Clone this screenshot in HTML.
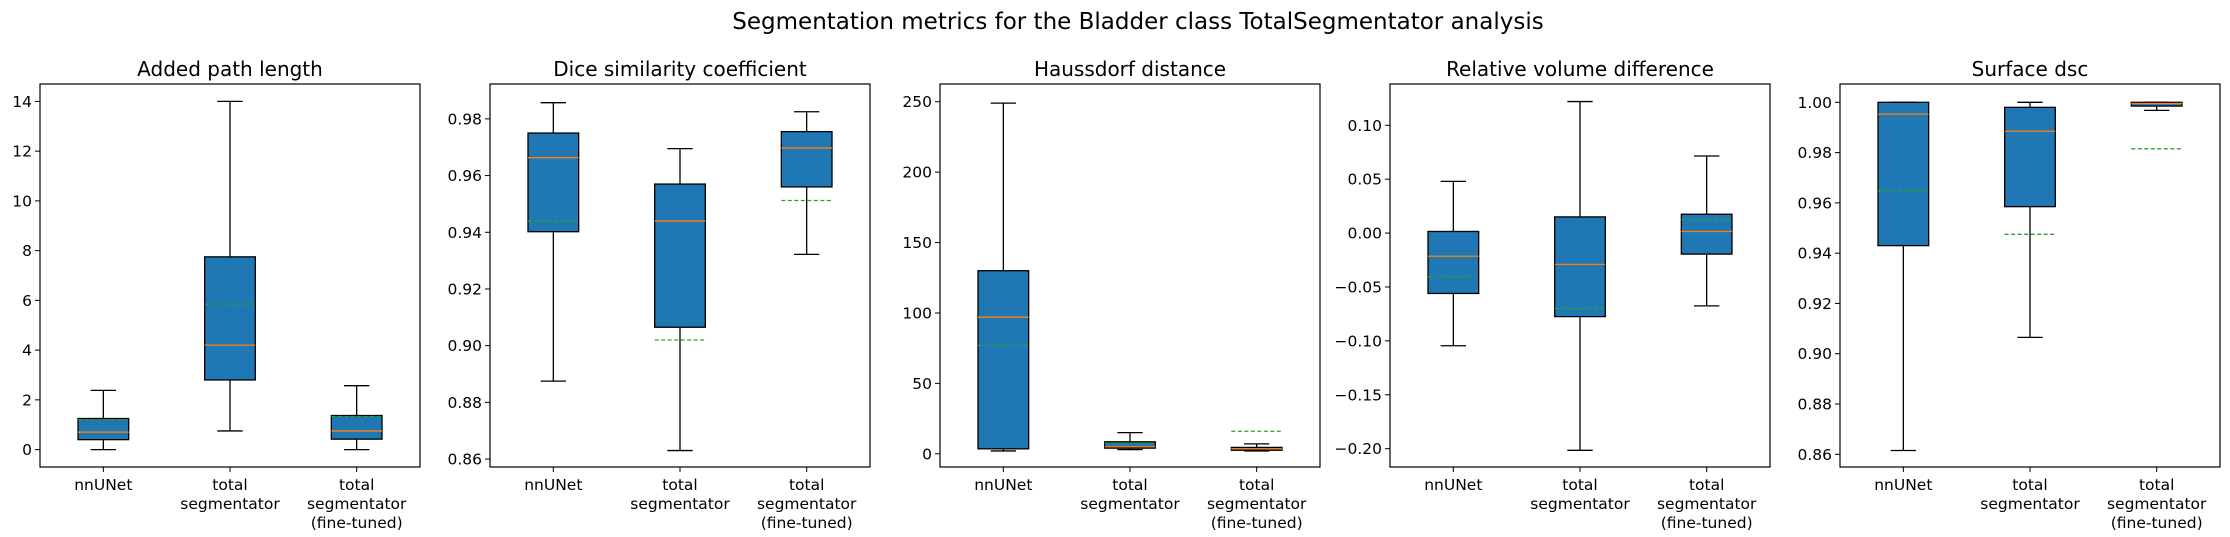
<!DOCTYPE html>
<html><head><meta charset="utf-8">
<style>
html,body{margin:0;padding:0;background:#fff;}
svg{display:block;font-family:"DejaVu Sans","Liberation Sans",sans-serif;}
</style></head>
<body>
<svg id="fig" width="2230" height="537" viewBox="0 0 2230 537">
<text x="1138" y="29" text-anchor="middle" font-size="23">Segmentation metrics for the Bladder class TotalSegmentator analysis</text>
</svg>
<script>
const categories = ["nnUNet", "total|segmentator", "total|segmentator|(fine-tuned)"];
const panelTitles = ["Added path length", "Dice similarity coefficient", "Haussdorf distance", "Relative volume difference", "Surface dsc"];
// [low whisker, q1, median, q3, high whisker, mean] per category
const pathLength = [[0,0.4,0.7,1.25,2.38,1.2],[0.75,2.8,4.2,7.75,14,5.85],[0,0.42,0.75,1.37,2.57,1.33]];
const diceCoef = [[0.8875,0.9402,0.9663,0.975,0.9857,0.944],[0.863,0.9065,0.944,0.957,0.9695,0.902],[0.9322,0.956,0.9697,0.9755,0.9825,0.9512]];
const hausdorff = [[2,3.5,97,130,249,77],[3,4,5,8.5,15,7.5],[2,2.5,3.5,4.5,7,16]];
const relVolume = [[-0.1045,-0.056,-0.0215,0.0015,0.048,-0.0405],[-0.2015,-0.0775,-0.029,0.015,0.122,-0.07],[-0.0675,-0.0195,0.0015,0.0175,0.0715,0.0125]];
const surfaceDsc = [[0.8615,0.943,0.9953,1.0,1.0,0.9649],[0.9065,0.9585,0.9885,0.998,1.0,0.9475],[0.9968,0.9985,0.9995,1.0,1.0,0.9815]];
const yLimits = [[-0.7,14.7],[0.8572,0.9923],[-9.4,262.6],[-0.217,0.1383],[0.85495,1.00728]];
const yTicks = [[0,2,4,6,8,10,12,14],[0.86,0.88,0.90,0.92,0.94,0.96,0.98],[0,50,100,150,200,250],[-0.20,-0.15,-0.10,-0.05,0.00,0.05,0.10],[0.86,0.88,0.90,0.92,0.94,0.96,0.98,1.00]];
const tickDecimals = [0,2,0,2,2];
const allData = [pathLength, diceCoef, hausdorff, relVolume, surfaceDsc];
const slugs = ["added-path-length","dice","haussdorf","relative-volume","surface-dsc"];

const NS = "http://www.w3.org/2000/svg";
const svg = document.getElementById("fig");
function mk(tag, attrs, parent){const e=document.createElementNS(NS,tag);for(const k in attrs)e.setAttribute(k,attrs[k]);(parent||svg).appendChild(e);return e;}

const TOP=84, BOT=467, W=380;
allData.forEach((data, p) => {
  const left = 40 + p*450, right = left + W;
  const [y0,y1] = yLimits[p];
  const ys = v => BOT - (v - y0) / (y1 - y0) * (BOT - TOP);
  const xs = i => left + (i + 0.5) * W / 3;
  const g = mk("g", {});
  
  
  const t = mk("text", {x:(left+right)/2, y:76, "text-anchor":"middle", "font-size":"20"}, g);
  t.textContent = panelTitles[p];
  
  
  yTicks[p].forEach(v => {
    const y = ys(v);
    mk("line", {x1:left-5, x2:left, y1:y, y2:y, stroke:"#000", "stroke-width":1}, g);
    const tl = mk("text", {x:left-8, y:y+5.5, "text-anchor":"end", "font-size":"15.5"}, g);
    tl.textContent = v.toFixed(tickDecimals[p]).replace("-", "\u2212");
    
    
  });
  data.forEach((d, i) => {
    const [lo,q1,med,q3,hi,mean] = d;
    const cx = xs(i), bw = 0.4 * W / 3, cw = bw / 2;
    const bg = mk("g", {}, g);
    
    
    mk("line", {x1:cx, x2:cx, y1:ys(hi), y2:ys(q3), stroke:"#000", "stroke-width":1.3}, bg);
    mk("line", {x1:cx, x2:cx, y1:ys(q1), y2:ys(lo), stroke:"#000", "stroke-width":1.3}, bg);
    mk("line", {x1:cx-cw/2, x2:cx+cw/2, y1:ys(hi), y2:ys(hi), stroke:"#000", "stroke-width":1.3}, bg);
    mk("line", {x1:cx-cw/2, x2:cx+cw/2, y1:ys(lo), y2:ys(lo), stroke:"#000", "stroke-width":1.3}, bg);
    mk("rect", {x:cx-bw/2, y:ys(q3), width:bw, height:Math.max(ys(q1)-ys(q3),0.5), fill:"#1f77b4", stroke:"#000", "stroke-width":1.3}, bg);
    mk("line", {x1:cx-bw/2, x2:cx+bw/2, y1:ys(med), y2:ys(med), stroke:"#ff7f0e", "stroke-width":1.3}, bg);
    mk("line", {x1:cx-bw/2, x2:cx+bw/2, y1:ys(mean), y2:ys(mean), stroke:"#2ca02c", "stroke-width":1.3, "stroke-dasharray":"4,2.5"}, bg);
    mk("line", {x1:cx, x2:cx, y1:BOT, y2:BOT+5, stroke:"#000", "stroke-width":1}, g);
    categories[i].split("|").forEach((ln, k) => {
      const xt = mk("text", {x:cx, y:BOT+23+k*19, "text-anchor":"middle", "font-size":"15.5"}, g);
      xt.textContent = ln;
      
      
    });
  });
  const fr = mk("rect", {x:left, y:TOP, width:W, height:BOT-TOP, fill:"none", stroke:"#000", "stroke-width":1.2}, g);
  
  
});
</script>
</body></html>
